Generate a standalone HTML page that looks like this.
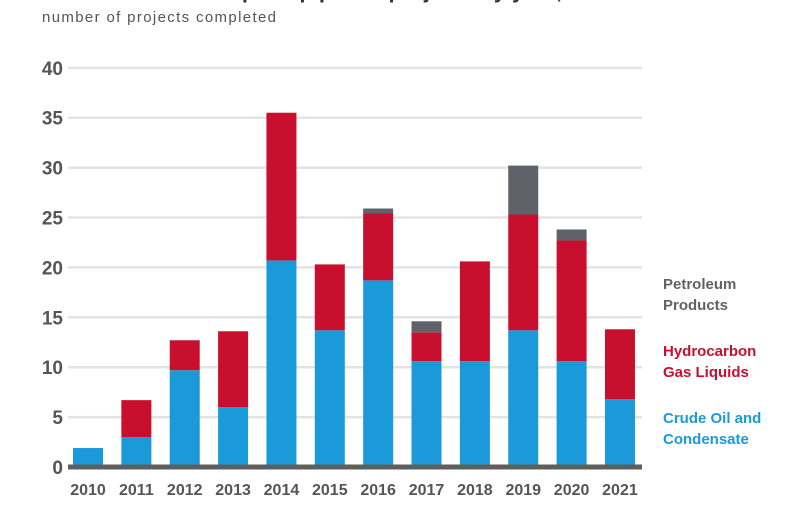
<!DOCTYPE html>
<html><head><meta charset="utf-8"><style>
body{margin:0;background:#fff;width:792px;height:517px;overflow:hidden;font-family:"Liberation Sans",sans-serif;}
</style></head><body>
<svg width="792" height="517" id="c">
<text x="215" y="-2" font-size="22" font-weight="bold" fill="#333">Liquids pipeline projects by year, 2010–2021</text>
<text x="42" y="22" font-size="15" fill="#555" textLength="234">number of projects completed</text>
<g id="grid"></g><g id="bars"></g><g id="xl"></g>
<line x1="68" y1="467" x2="642" y2="467" stroke="#5e5e5e" stroke-width="5"/>
<g font-size="15" font-weight="bold">
<text x="663" y="289" fill="#5f6369"><tspan x="663">Petroleum</tspan><tspan x="663" dy="21">Products</tspan></text>
<text x="663" y="356" fill="#c8102e"><tspan x="663">Hydrocarbon</tspan><tspan x="663" dy="21">Gas Liquids</tspan></text>
<text x="663" y="423" fill="#1a9ad9"><tspan x="663">Crude Oil and</tspan><tspan x="663" dy="21">Condensate</tspan></text>
</g>
</svg>
<script>
const years=["2010","2011","2012","2013","2014","2015","2016","2017","2018","2019","2020","2021"];
const crude=[1.9,3,9.7,6,20.7,13.7,18.7,10.6,10.6,13.7,10.6,6.8];
const hgl=[0,3.7,3,7.6,14.8,6.6,6.7,2.9,10,11.6,12.1,7];
const petroleum=[0,0,0,0,0,0,0.5,1.1,0,4.9,1.1,0];
const yTicks=[0,5,10,15,20,25,30,35,40];
const NS="http://www.w3.org/2000/svg";
const y0=467,pxPer=9.98,x0=88,step=48.36,bw=30;
const Y=v=>y0-v*pxPer, X=i=>x0+i*step;
function mk(t,a,p){const e=document.createElementNS(NS,t);for(const k in a)e.setAttribute(k,a[k]);p.appendChild(e);return e;}
const g=document.getElementById('grid');
yTicks.forEach(v=>{
  if(v>0){const l=mk('line',{x1:68,x2:642,y1:Y(v),y2:Y(v),stroke:'#e3e3e3','stroke-width':2.5},g);
  
  }
  const t=mk('text',{x:63,y:Y(v)+7,'text-anchor':'end','font-size':19,'font-weight':'bold',fill:'#555'},g);
  t.textContent=v;
  
  
});
const b=document.getElementById('bars'),xl=document.getElementById('xl');
years.forEach((yr,i)=>{
  let base=0;
  [[crude,'#1a9ad9','crude'],[hgl,'#c8102e','hgl'],[petroleum,'#5f6369','petroleum']].forEach(([arr,col,nm])=>{
    const v=arr[i]; if(v<=0)return;
    const r=mk('rect',{x:X(i)-bw/2,y:Y(base+v),width:bw,height:v*pxPer,fill:col},b);
    
    
    base+=v;
  });
  const t=mk('text',{x:X(i),y:495,'text-anchor':'middle','font-size':16,'font-weight':'bold',fill:'#555'},xl);
  t.textContent=yr;
  
  
});
</script>
</body></html>
